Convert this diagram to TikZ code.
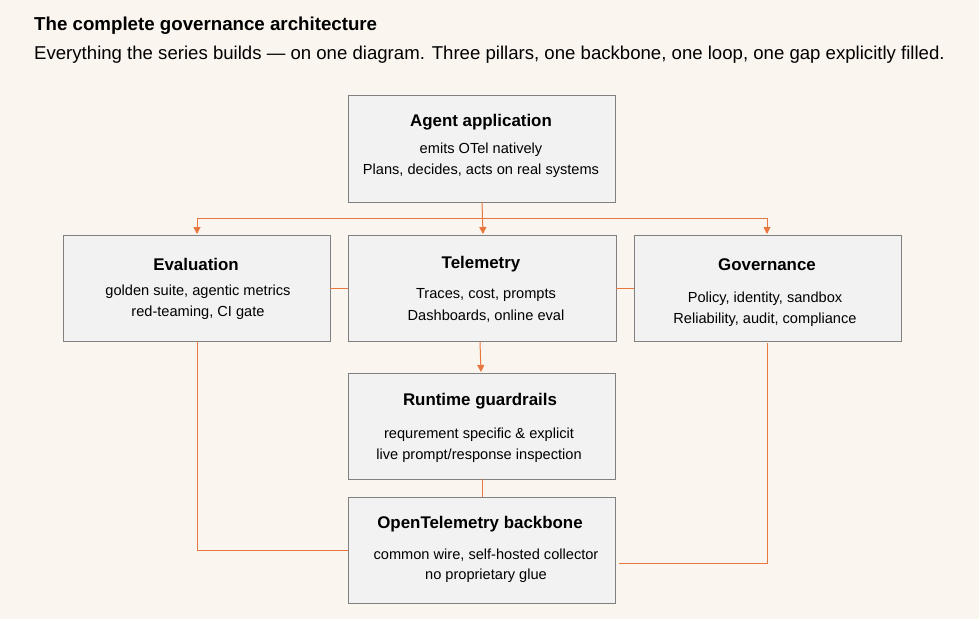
\documentclass[tikz,border=0pt]{standalone}
\usepackage{fontspec}
\setmainfont{Liberation Sans}
\usetikzlibrary{arrows.meta}
\definecolor{bg}{HTML}{FAF5EF}
\definecolor{boxf}{HTML}{F2F2F2}
\definecolor{boxd}{HTML}{808080}
\definecolor{org}{HTML}{E8773F}
\begin{document}
\begin{tikzpicture}[x=1pt,y=-1pt,
  box/.style={draw=boxd,fill=boxf,line width=0.8pt},
  ttl/.style={font=\fontsize{16.9}{20}\selectfont\bfseries},
  bod/.style={font=\fontsize{14.6}{17}\selectfont},
  con/.style={draw=org,line width=1pt},
  arr/.style={con,-{Triangle[length=7pt,width=7pt]}}]
\fill[bg] (0,0) rectangle (979,619);
\useasboundingbox (0,0) rectangle (979,619);
\node[anchor=base west,font=\fontsize{18.7}{22}\selectfont\bfseries,inner xsep=0pt] (t1) at (34,30) {The complete governance architecture};
\node[anchor=base west,font=\fontsize{18.6}{22}\selectfont,inner xsep=0pt] (t2) at (34,59) {Everything the series builds — on one diagram. Three pillars, one backbone, one loop, one gap explicitly filled.};
% boxes
\node[box,minimum width=267pt,minimum height=107pt] (ag) at (481.5,148.5) {};
\node[box,minimum width=267pt,minimum height=106pt] (ev) at (196.5,288) {};
\node[box,minimum width=268pt,minimum height=106pt] (te) at (482,288) {};
\node[box,minimum width=267pt,minimum height=106pt] (go) at (767.5,288) {};
\node[box,minimum width=267pt,minimum height=106pt] (rt) at (481.5,426) {};
\node[box,minimum width=267pt,minimum height=106pt] (ot) at (481.5,550) {};
% texts
\begin{scope}[yshift=-2pt]
\node[ttl] (agT) at (481,120) {Agent application};
\node[bod] (agA) at (481,148) {emits OTel natively};
\node[bod] (agB) at (481,169) {Plans, decides, acts on real systems};
\node[ttl] (evT) at (196,262) {Evaluation};
\node[bod] (evA) at (198,290) {golden suite, agentic metrics};
\node[bod] (evB) at (198,311) {red-teaming, CI gate};
\node[ttl] (teT) at (481,262) {Telemetry};
\node[bod] (teA) at (486,293) {Traces, cost, prompts};
\node[bod] (teB) at (486,314) {Dashboards, online eval};
\node[ttl] (goT) at (767,263) {Governance};
\node[bod] (goA) at (765,297) {Policy, identity, sandbox};
\node[bod] (goB) at (765,318) {Reliability, audit, compliance};
\node[ttl] (rtT) at (480,399) {Runtime guardrails};
\node[bod] (rtA) at (479,433) {requrement specific \& explicit};
\node[bod] (rtB) at (479,454) {live prompt/response inspection};
\node[ttl] (otT) at (480,522) {OpenTelemetry backbone};
\node[bod] (otA) at (486,553) {common wire, self-hosted collector};
\node[bod] (otB) at (486,574) {no proprietary glue};
\end{scope}
% connectors
\coordinate (sL) at (197,218);
\coordinate (sR) at (767,218);
\draw[arr] (ag.south) ++(0.5,0) -- (483,234);
\draw[con] (sL) -- (sR);
\draw[arr] (sL) -- (197,234);
\draw[arr] (sR) -- (767,234);
\draw[con] (ev.east|-0,288) -- (te.west|-0,288);
\draw[con] (te.east|-0,288) -- (go.west|-0,288);
\draw[arr] (480,342) -- (481,372);
\draw[con] (482,479) -- (482,497);
\draw[con] (197,341) -- (197,550) -- (348,550);
\draw[con] (767,343) -- (767,563) -- (619,563);
\end{tikzpicture}
\end{document}
